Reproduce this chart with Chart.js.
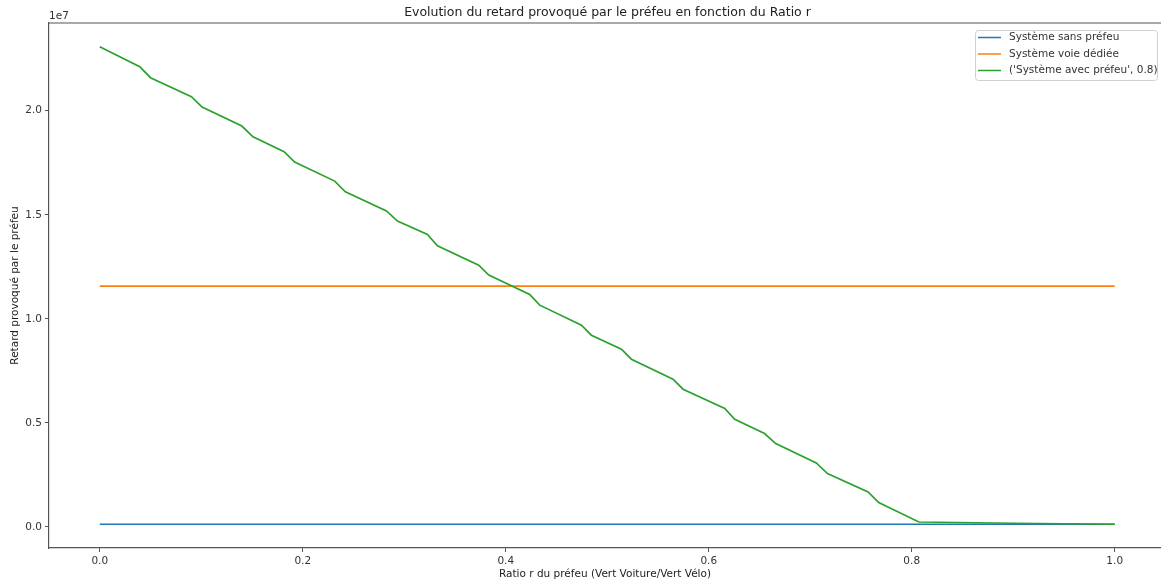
<!DOCTYPE html>
<html>
<head>
<meta charset="utf-8">
<script src="https://cdn.jsdelivr.net/npm/chart.js@4.4.1/dist/chart.umd.min.js"></script>
<style>
  html, body { margin: 0; padding: 0; background: #fff; overflow: hidden; }
  #wrap { width: 1161px; height: 586px; }
</style>
</head>
<body>
<div id="wrap"><canvas id="c" width="1161" height="586"></canvas></div>
<script>
// ---- Data ----
const seriesNames = ["Système sans préfeu", "Système voie dédiée", "('Système avec préfeu', 0.8)"];
const seriesColors = ["#1f77b4", "#ff7f0e", "#2ca02c"];

const ratioSans = [0.0, 1.0];
const retardSans = [130000, 130000];

const ratioDediee = [0.0, 1.0];
const retardDediee = [11570000, 11570000];

const ratioPrefeu = [0.0, 0.0394, 0.050, 0.0903, 0.1008, 0.140, 0.151, 0.1816, 0.192, 0.2315, 0.242,
  0.2825, 0.2933, 0.3229, 0.3327, 0.3734, 0.3833, 0.4236, 0.4335, 0.4746, 0.4844, 0.514, 0.5238,
  0.5648, 0.5747, 0.6158, 0.6256, 0.655, 0.666, 0.706, 0.717, 0.757, 0.7675, 0.807, 0.9, 1.0];
const retardPrefeu = [23077000, 22115000, 21587000, 20673000, 20178000, 19264000, 18750000, 18029000, 17534000, 16620000, 16106000,
  15183000, 14697000, 14058000, 13510000, 12582000, 12101000, 11173000, 10659000, 9697000, 9216000, 8543000, 8062000,
  7101000, 6620000, 5692000, 5178000, 4490000, 4010000, 3077000, 2567000, 1683000, 1173000, 240000, 180000, 130000];

const xTickValues = [0.0, 0.2, 0.4, 0.6, 0.8, 1.0];
const yTickValues = [0, 5000000, 10000000, 15000000, 20000000];

const titleText = "Evolution du retard provoqué par le préfeu en fonction du Ratio r";
const xLabel = "Ratio r du préfeu (Vert Voiture/Vert Vélo)";
const yLabel = "Retard provoqué par le préfeu";
const yOffsetText = "1e7";

// ---- Build ----
const FONT = "'DejaVu Sans', sans-serif";
const toPts = (xs, ys) => xs.map((x, i) => ({ x: x, y: ys[i] }));

// full matplotlib axes spans x in [-0.05, 1.05]; the picture is cropped at the right edge
const AXES_FULL_RIGHT = 1166;

const framePlugin = {
  id: 'frame',
  afterDatasetsDraw(chart) {
    const { ctx, chartArea: a } = chart;
    ctx.save();
    ctx.strokeStyle = '#555';
    ctx.lineWidth = 1.2;
    ctx.beginPath();
    ctx.moveTo(a.left, a.top); ctx.lineTo(a.right, a.top);
    ctx.stroke();
    ctx.fillStyle = '#333';
    ctx.font = "10.5px " + FONT;
    ctx.textAlign = 'left';
    ctx.textBaseline = 'middle';
    ctx.fillText(yOffsetText, a.left, 16.5);
    // title centred on the (uncropped) axes
    ctx.fillStyle = '#222';
    ctx.font = "12.5px " + FONT;
    ctx.textAlign = 'center';
    ctx.fillText(titleText, (a.left + AXES_FULL_RIGHT) / 2, 13);
    ctx.restore();
  }
};

const legendPlugin = {
  id: 'mplLegend',
  afterDraw(chart) {
    const { ctx } = chart;
    const x0 = 975, y0 = 30, w = 182, h = 50;
    ctx.save();
    ctx.fillStyle = 'rgba(255,255,255,0.85)';
    ctx.strokeStyle = '#d0d0d0';
    ctx.lineWidth = 1;
    ctx.beginPath();
    ctx.roundRect(x0 + 0.5, y0 + 0.5, w, h, 3);
    ctx.fill(); ctx.stroke();
    ctx.font = "10.5px " + FONT;
    ctx.textAlign = 'left';
    ctx.textBaseline = 'middle';
    chart.data.datasets.forEach((ds, i) => {
      const yy = 37.5 + i * 16.5;
      ctx.strokeStyle = ds.borderColor;
      ctx.lineWidth = 1.5;
      ctx.beginPath();
      ctx.moveTo(978, yy); ctx.lineTo(1001, yy);
      ctx.stroke();
      ctx.fillStyle = '#333';
      ctx.fillText(ds.label, 1009, yy);
    });
    ctx.restore();
  }
};

new Chart(document.getElementById('c'), {
  type: 'line',
  data: {
    datasets: [
      { label: seriesNames[0], data: toPts(ratioSans, retardSans), borderColor: seriesColors[0], order: 3 },
      { label: seriesNames[1], data: toPts(ratioDediee, retardDediee), borderColor: seriesColors[1], order: 2 },
      { label: seriesNames[2], data: toPts(ratioPrefeu, retardPrefeu), borderColor: seriesColors[2], order: 1 }
    ]
  },
  options: {
    responsive: false,
    animation: false,
    events: [],
    layout: { padding: { left: 0, right: 0, top: 23, bottom: 0 } },
    elements: {
      line: { borderWidth: 1.7, tension: 0, fill: false, borderCapStyle: 'butt' },
      point: { radius: 0 }
    },
    plugins: {
      legend: { display: false },
      tooltip: { enabled: false },
      title: { display: false }
    },
    scales: {
      x: {
        type: 'linear',
        min: -0.05, max: 1.0456,
        afterBuildTicks: s => { s.ticks = xTickValues.map(v => ({ value: v })); },
        afterFit: s => { s.height = 38; },
        ticks: {
          color: '#333', font: { family: FONT, size: 10.5 }, padding: 3, maxRotation: 0,
          callback: v => Number(v).toFixed(1)
        },
        grid: { drawOnChartArea: false, drawTicks: true, tickLength: 4, color: '#555', tickWidth: 1 },
        border: { display: true, color: '#555', width: 1.2 },
        title: {
          display: true, text: xLabel, color: '#222',
          font: { family: FONT, size: 10.5, lineHeight: 1.2 },
          padding: { top: 0, bottom: 5 }
        }
      },
      y: {
        type: 'linear',
        min: -1010000, max: 24216000,
        afterBuildTicks: s => { s.ticks = yTickValues.map(v => ({ value: v })); },
        afterFit: s => { s.width = 49; },
        ticks: {
          color: '#333', font: { family: FONT, size: 10.5 }, padding: 3,
          callback: v => (v / 1e7).toFixed(1)
        },
        grid: { drawOnChartArea: false, drawTicks: true, tickLength: 4, color: '#555', tickWidth: 1 },
        border: { display: true, color: '#555', width: 1.2 },
        title: {
          display: true, text: yLabel, color: '#222',
          font: { family: FONT, size: 10.5, lineHeight: 1.2 },
          padding: { top: 9, bottom: 0 }
        }
      }
    }
  },
  plugins: [framePlugin, legendPlugin]
});
</script>
</body>
</html>
